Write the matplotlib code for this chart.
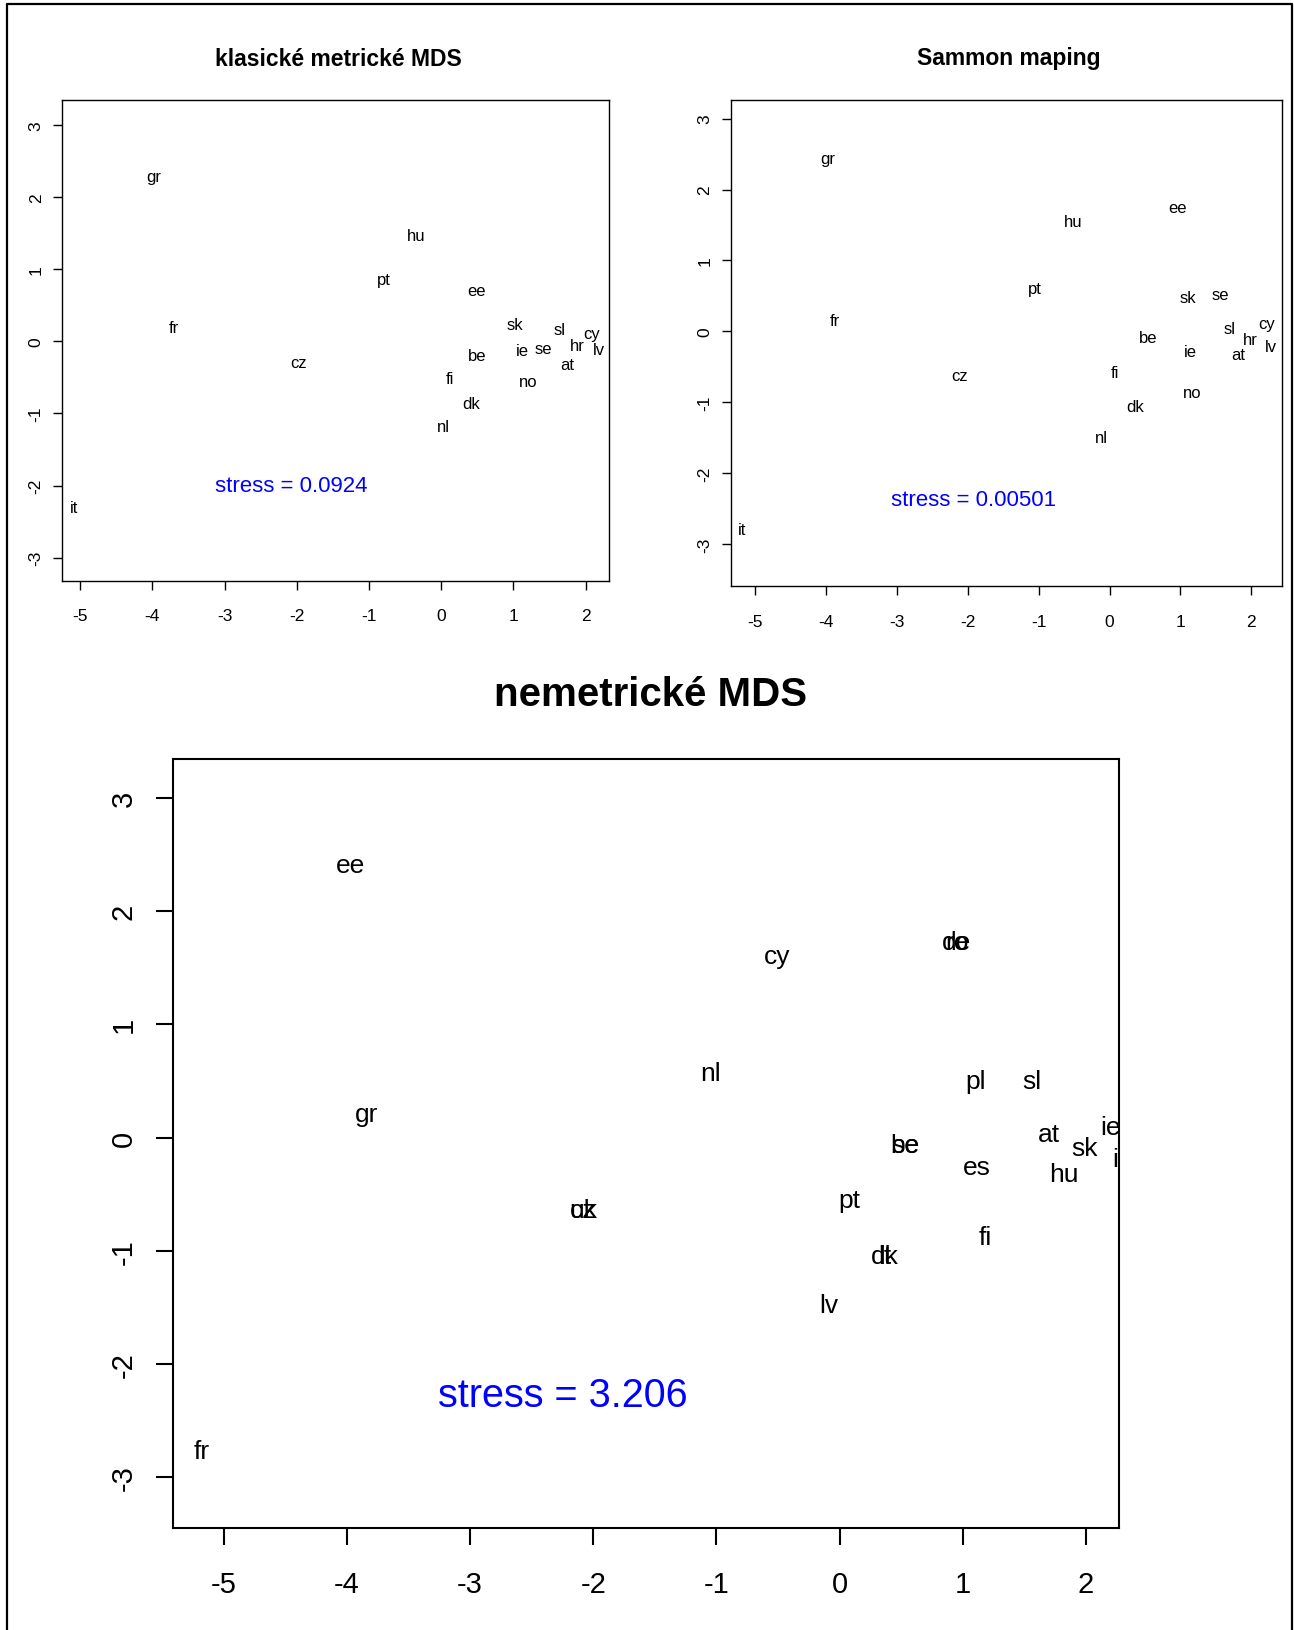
import matplotlib
matplotlib.use("Agg")
import matplotlib.pyplot as plt
from matplotlib.lines import Line2D

plt.rcParams['font.family'] = ['Liberation Sans', 'DejaVu Sans']

# klasicke metricke MDS
cmd_lab = ['gr', 'hu', 'pt', 'ee', 'fr', 'sk', 'sl', 'cy', 'ie', 'se', 'hr', 'lv',
           'be', 'at', 'cz', 'fi', 'no', 'dk', 'nl', 'it']
cmd_x = [-3.98, -0.35, -0.79, 0.49, -3.70, 1.02, 1.64, 2.09, 1.12, 1.41, 1.89, 2.18,
         0.50, 1.74, -1.97, 0.12, 1.21, 0.42, 0.03, -5.09]
cmd_y = [2.28, 1.47, 0.85, 0.71, 0.19, 0.23, 0.16, 0.11, -0.13, -0.10, -0.06, -0.12,
         -0.20, -0.32, -0.30, -0.51, -0.56, -0.87, -1.18, -2.30]
cmd_stress = 'stress = 0.0924'

# Sammon mapping
sam_lab = ['gr', 'ee', 'hu', 'pt', 'sk', 'se', 'fr', 'sl', 'cy', 'hr', 'lv', 'be',
           'ie', 'at', 'cz', 'fi', 'dk', 'no', 'nl', 'it']
sam_x = [-3.97, 0.96, -0.52, -1.06, 1.11, 1.56, -3.87, 1.70, 2.21, 1.99, 2.27, 0.54,
         1.14, 1.81, -2.11, 0.08, 0.36, 1.17, -0.11, -5.19]
sam_y = [2.44, 1.74, 1.55, 0.60, 0.48, 0.52, 0.16, 0.04, 0.11, -0.11, -0.21, -0.09,
         -0.28, -0.33, -0.62, -0.58, -1.06, -0.86, -1.49, -2.79]
sam_stress = 'stress = 0.00501'

# nemetricke MDS (some countries land on top of each other, as in the original)
nm_lab = ['ee', 'cy', 'de', 'ro', 'nl', 'pl', 'sl', 'gr', 'at', 'ie', 'sk', 'it',
          'be', 'se', 'es', 'hu', 'pt', 'cz', 'uk', 'fi', 'dk', 'lt', 'lv', 'fr']
nm_x = [-3.97, -0.51, 0.95, 0.95, -1.05, 1.10, 1.56, -3.84, 1.70, 2.20, 1.99, 2.27,
        0.53, 0.53, 1.11, 1.82, 0.08, -2.08, -2.08, 1.18, 0.37, 0.37, -0.09, -5.18]
nm_y = [2.41, 1.60, 1.73, 1.73, 0.57, 0.50, 0.50, 0.21, 0.03, 0.09, -0.09, -0.19,
        -0.07, -0.07, -0.26, -0.32, -0.55, -0.64, -0.64, -0.88, -1.05, -1.05, -1.48, -2.77]
nm_stress = 'stress = 3.206'

W, H = 1294, 1631
fig = plt.figure(figsize=(W / 100, H / 100), dpi=100)


def box(l, r, t, b):
	return [l / W, 1 - b / H, (r - l) / W, (b - t) / H]


def panel(rect, lab, xs, ys, stress, spos, xlim, ylim, title, tpos,
          fs, sfs, tfs, tkfs, tlen, xpad, ypad, lw):
	ax = fig.add_axes(box(*rect))
	for t, x, y in zip(lab, xs, ys):
		ax.text(x, y, t, ha='center', va='center', fontsize=fs, clip_on=True)
	ax.text(spos[0], spos[1], stress, ha='center', va='center', fontsize=sfs, color='blue')
	ax.set_xlim(*xlim)
	ax.set_ylim(*ylim)
	ax.set_xticks(range(-5, 3))
	ax.set_yticks(range(-3, 4))
	ax.set_xticklabels([str(v) for v in range(-5, 3)])
	ax.set_yticklabels([str(v) for v in range(-3, 4)], rotation=90, va='center')
	ax.tick_params(axis='x', length=tlen, width=lw, pad=xpad, labelsize=tkfs, direction='out')
	ax.tick_params(axis='y', length=tlen, width=lw, pad=ypad, labelsize=tkfs, direction='out')
	for s in ax.spines.values():
		s.set_linewidth(lw)
	fig.text(tpos[0] / W, 1 - tpos[1] / H, title, ha='center', va='center',
	         fontsize=tfs, fontweight='bold')
	return ax


panel((62.4, 608.5, 100.9, 581.5), cmd_lab, cmd_x, cmd_y, cmd_stress, (-2.07, -2.0),
      (-5.245, 2.317), (-3.317, 3.346), 'klasické metrické MDS', (338, 59),
      12, 16, 16.5, 12.5, 6.5, 13.5, 7, 1.0)

panel((731.3, 1281.5, 100.9, 586.7), sam_lab, sam_x, sam_y, sam_stress, (-1.92, -2.37),
      (-5.338, 2.426), (-3.587, 3.264), 'Sammon maping', (1009, 59),
      12, 16, 16.5, 12.5, 6.5, 14, 7, 1.0)

panel((172.7, 1119.3, 760.4, 1529.1), nm_lab, nm_x, nm_y, nm_stress, (-2.25, -2.27),
      (-5.414, 2.27), (-3.45, 3.34), 'nemetrické MDS', (651, 695),
      19, 28.5, 29, 21, 12, 18, 13, 1.5)

# outer frame (open at the bottom)
fig.add_artist(Line2D([7 / W, 7 / W, 1292 / W, 1292 / W], [0, 1 - 5 / H, 1 - 5 / H, 0],
                      transform=fig.transFigure, color='black', lw=1.6))

fig.savefig('out.png', dpi=100)
